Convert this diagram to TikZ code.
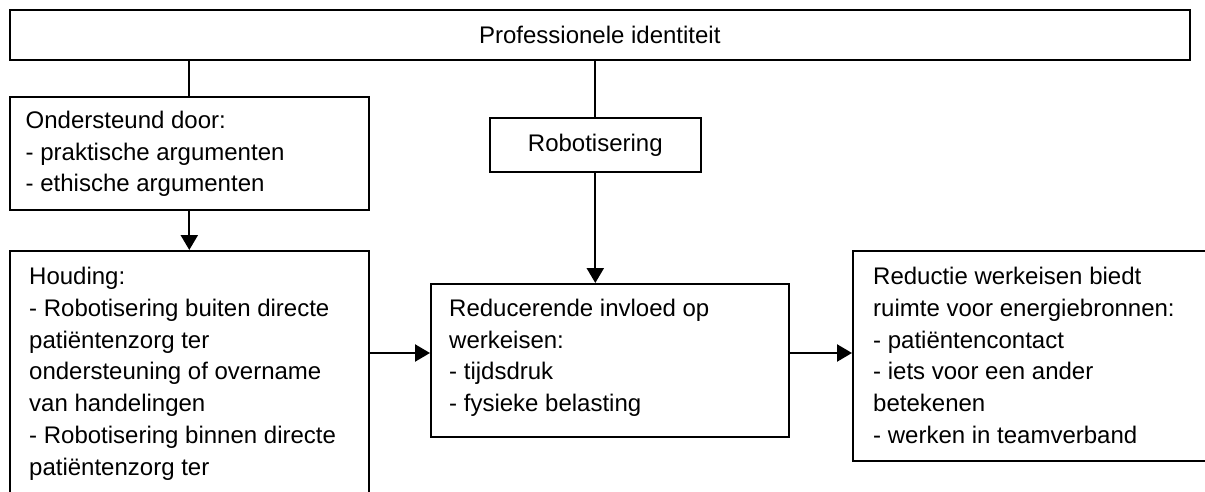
\documentclass[tikz,border=0pt]{standalone}
\usepackage{fontspec}
\setmainfont{Liberation Sans}
\usetikzlibrary{arrows.meta,calc}
\begin{document}
\begin{tikzpicture}[x=1pt,y=-1pt,
  boxf/.style={draw=black,line width=1.6pt,fill=white,inner sep=0pt,anchor=north west,
    font=\fontsize{24}{31.8}\selectfont},
  txt/.style={inner sep=0pt,anchor=north west,align=left,font=\fontsize{24}{31.8}\selectfont},
  conn/.style={line width=2.3pt},
  arr/.style={conn,-{Triangle[length=15pt,width=17pt]}}]
\useasboundingbox (0,0) rectangle (1205,492);
\clip (0,0) rectangle (1205,492);
% boxes
\node[boxf,minimum width=1180pt,minimum height=50pt] (top) at (9,9) {Professionele identiteit};
\node[boxf,minimum width=359pt,minimum height=113pt] (ond) at (9,96) {};
\node[boxf,minimum width=359pt,minimum height=270pt] (houd) at (9,250) {};
\node[boxf,minimum width=211pt,minimum height=54pt] (robo) at (489,117) {Robotisering};
\node[boxf,minimum width=358pt,minimum height=153pt] (red) at (430,283) {};
\node[boxf,minimum width=363pt,minimum height=210pt] (reduc) at (852,250) {};
% texts
\node[txt] (ondT) at (25.5,110) {\rule{0pt}{18pt}Ondersteund door:\\- praktische argumenten\\- ethische argumenten};
\node[txt] (houdT) at (29,266.3) {\rule{0pt}{18pt}Houding:\\- Robotisering buiten directe\\patiëntenzorg ter\\ondersteuning of overname\\van handelingen\\- Robotisering binnen directe\\patiëntenzorg ter};
\node[txt] (redT) at (449,298) {\rule{0pt}{18pt}Reducerende invloed op\\werkeisen:\\- tijdsdruk\\- fysieke belasting};
\node[txt] (reducT) at (873,266.3) {\rule{0pt}{18pt}Reductie werkeisen biedt\\ruimte voor energiebronnen:\\- patiëntencontact\\- iets voor een ander\\betekenen\\- werken in teamverband};
% connectors
\coordinate (hy) at (0,353);
\draw[conn] (top.south -| ond.north) -- (ond.north);
\draw[arr] (ond.south) -- (houd.north);
\draw[conn] (top.south -| robo.north) -- (robo.north);
\draw[arr] (robo.south) -- (robo.south |- red.north);
\draw[arr] (houd.east |- hy) -- (red.west |- hy);
\draw[arr] (red.east |- hy) -- (reduc.west |- hy);
\end{tikzpicture}
\end{document}
